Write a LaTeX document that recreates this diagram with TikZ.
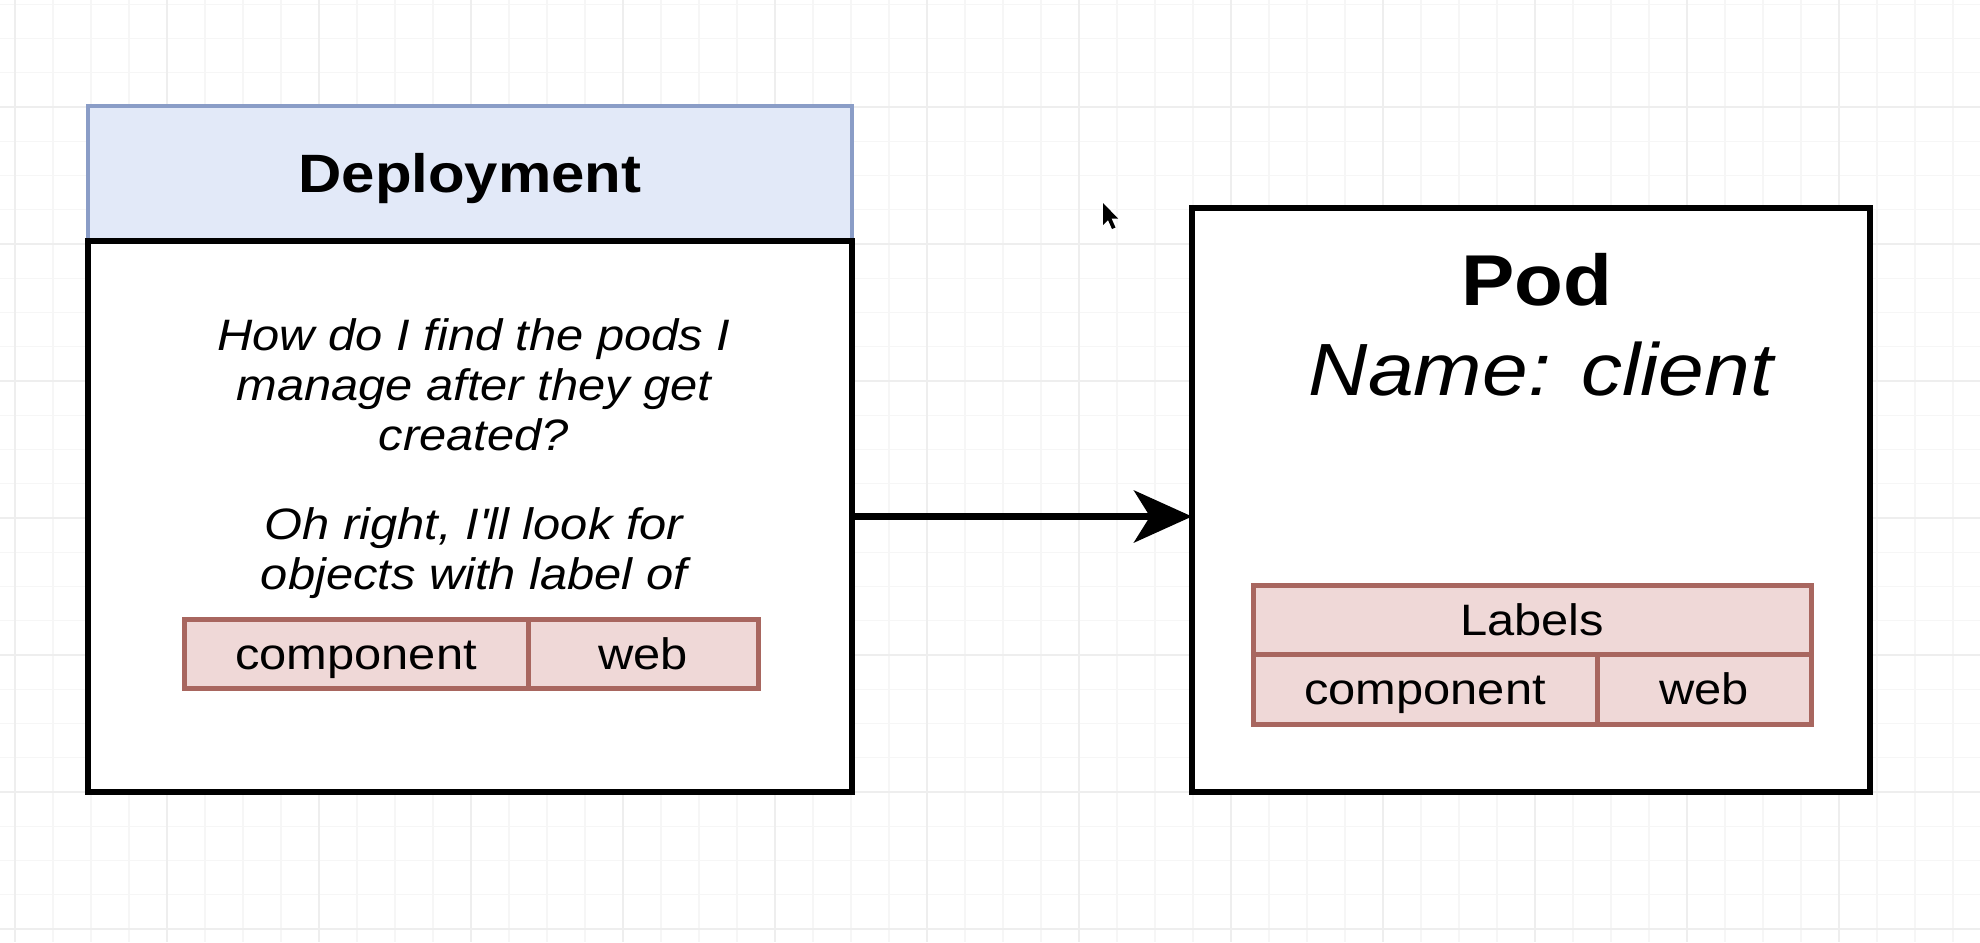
\documentclass[tikz,border=0pt]{standalone}
\usepackage{fontspec}
\setmainfont{Liberation Sans}[FakeStretch=1.11]
\usetikzlibrary{arrows.meta}

\definecolor{hdrfill}{HTML}{E2E9F8}
\definecolor{hdrline}{HTML}{8A9DC7}
\definecolor{lblfill}{HTML}{EFD8D7}
\definecolor{lblline}{HTML}{A8665F}
\definecolor{gridminor}{HTML}{F6F6F6}
\definecolor{gridmajor}{HTML}{EEEEEE}

\begin{document}
\begin{tikzpicture}[x=0.5pt,y=-0.5pt,
  box/.style={draw=black,line width=2.75pt,fill=white,inner sep=0pt,outer sep=0pt,anchor=north west},
  header/.style={draw=hdrline,line width=2pt,fill=hdrfill,inner sep=0pt,outer sep=0pt,anchor=north west,text height=19.3pt,text depth=0pt},
  lbl/.style={draw=lblline,line width=2.5pt,fill=lblfill,inner sep=0pt,outer sep=0pt,anchor=north west,text height=15.8pt,text depth=0pt,font=\fontsize{22}{26}\selectfont},
  note/.style={align=center,font=\fontsize{22}{25}\selectfont\itshape},
  conn/.style={line width=3.5pt,-{Stealth[length=29pt,width=26pt,inset=8pt]}}]
  \useasboundingbox (0,0) rectangle (1980,942);
  \fill[white] (0,0) rectangle (1980,942);

  % grid
  \foreach \gx in {15,53,...,1980} \draw[gridminor,line width=0.6pt] (\gx,0) -- (\gx,942);
  \foreach \gy in {4.25,38.5,...,942} \draw[gridminor,line width=0.6pt] (0,\gy) -- (1980,\gy);
  \foreach \gx in {15,167,...,1980} \draw[gridmajor,line width=0.6pt] (\gx,0) -- (\gx,942);
  \foreach \gy in {107,244,...,942} \draw[gridmajor,line width=0.6pt] (0,\gy) -- (1980,\gy);

  \node[header,minimum width=382pt,minimum height=67.5pt] (dephead) at (88,106) {\fontsize{27}{32}\selectfont\bfseries Deployment};
  \node[box,minimum width=382pt,minimum height=275.5pt] (depbody) at (88,241) {};
  \node[box,minimum width=339pt,minimum height=292pt] (pod) at (1192,208) {};

  \node[note] (ask) at (474,385) {How do I find the pods I\\manage after they get\\created?};
  \node[note] (answer) at (474,553) {Oh right, I\textquotesingle ll look for\\objects with label of};
  \node[lbl,minimum width=172pt,minimum height=34.5pt] (depkey) at (184,619) {component};
  \node[lbl,minimum width=115pt,minimum height=34.5pt] (depval) at (528,619) {web};

  \node[font=\fontsize{36}{40}\selectfont\bfseries] (podname) at (1537,280) {Pod};
  \node[font=\fontsize{37}{40}\selectfont\itshape] (podid) at (1541,369) {Name: client};
  \node[lbl,minimum width=279pt,minimum height=34.5pt] (podlbls) at (1253,585) {Labels};
  \node[lbl,minimum width=172pt,minimum height=35pt] (podkey) at (1253,654) {component};
  \node[lbl,minimum width=107pt,minimum height=35pt] (podval) at (1597,654) {web};

  \draw[conn] (depbody.east) -- (depbody.east -| pod.west);

  % pointer
  \fill[black] (1103,203) -- (1103,225) -- (1108,220) -- (1112,229) -- (1115.5,227.5) -- (1111.5,218.5) -- (1118,218.5) -- cycle;
\end{tikzpicture}
\end{document}
